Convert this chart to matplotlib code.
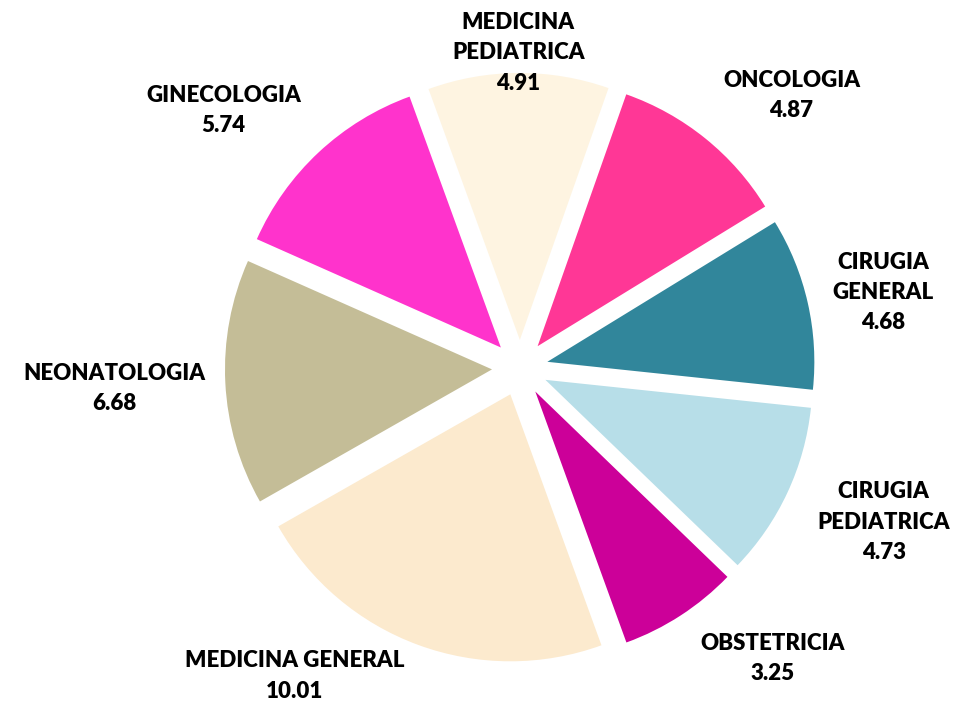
import numpy as np
import matplotlib
matplotlib.use('Agg')
import matplotlib.pyplot as plt

# datos
categorias = ['MEDICINA\nPEDIATRICA', 'ONCOLOGIA', 'CIRUGIA\nGENERAL', 'CIRUGIA\nPEDIATRICA',
              'OBSTETRICIA', 'MEDICINA GENERAL', 'NEONATOLOGIA', 'GINECOLOGIA']
valores = [4.91, 4.87, 4.68, 4.73, 3.25, 10.01, 6.68, 5.74]
colores = ['#FEF4E1', '#FF3796', '#31869B', '#B7DEE8', '#CC0099', '#FCEACE', '#C4BD97', '#FF33CC']

# posicion de etiquetas (radio, desplazamiento angular)
lab_dist = [1.18, 1.44, 1.39, 1.48, 1.44, 1.43, 1.52, 1.47]
lab_shift = [0, -6, -1, 2, 8, -16, 0, 6]

fig = plt.figure(figsize=(9.62, 7.14), dpi=100)
ax = fig.add_axes([0, 0, 1, 1])
wedges, _ = ax.pie(valores, colors=colores, startangle=110, counterclock=False,
                   explode=[0.105] * len(valores), radius=1.0,
                   wedgeprops=dict(linewidth=0))

for w, cat, val, d, s in zip(wedges, categorias, valores, lab_dist, lab_shift):
    ang = np.deg2rad((w.theta1 + w.theta2) / 2 + s)
    ax.text(d * np.cos(ang), d * np.sin(ang), '%s\n%.2f' % (cat, val),
            ha='center', va='center', fontsize=16, fontweight='heavy',
            family=['Lato', 'DejaVu Sans'], linespacing=1.55)

ax.set_aspect('equal', adjustable='datalim')
ax.set_xlim(-520 / 267, (962 - 520) / 267)
ax.set_ylim(-346 / 267, 368 / 267)
ax.axis('off')
fig.savefig('out.png', dpi=100)
